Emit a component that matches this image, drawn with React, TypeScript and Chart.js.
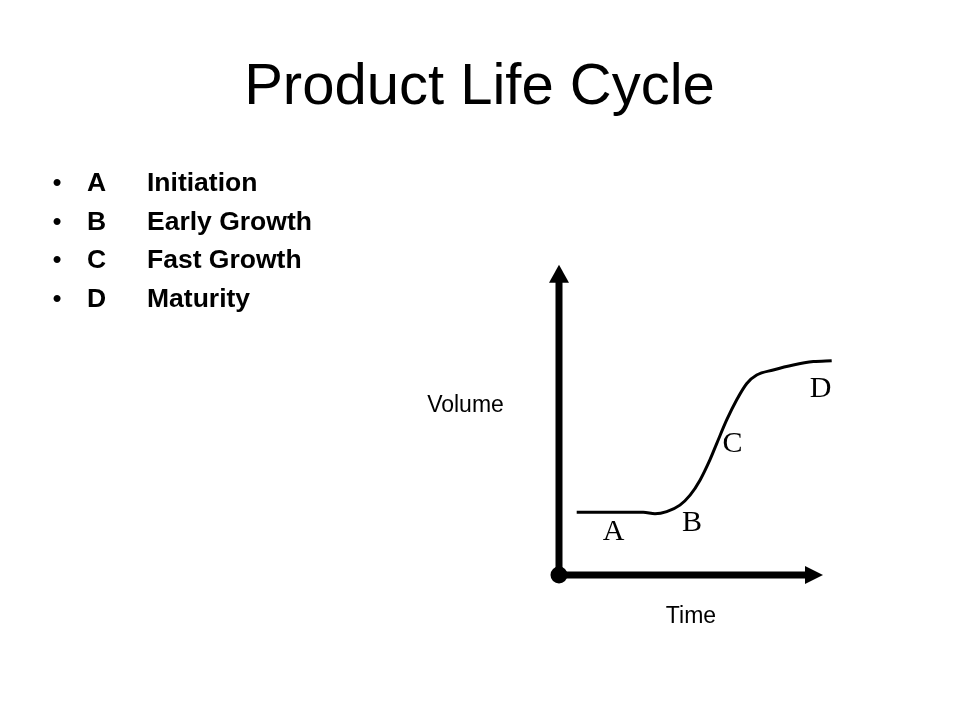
import React, { useEffect, useRef } from "react";
import { Chart, registerables } from "chart.js";

Chart.register(...registerables);

// ---- data ----
const titleText = "Product Life Cycle";
const stageLetters = ["A", "B", "C", "D"];
const stageNames = ["Initiation", "Early Growth", "Fast Growth", "Maturity"];

// S-curve (volume over time), in diagram units
const curveTime = [5.9, 28.1, 32.0, 35.9, 40.3, 43.7, 47.0, 50.3, 52.6, 55.9, 59.2, 62.6, 65.9, 71.4, 78.1, 84.8, 90.9];
const curveVolume = [20.1, 20.1, 19.6, 20.3, 22.4, 25.6, 30.4, 36.9, 42.2, 49.7, 56.1, 61.4, 64.1, 65.7, 67.3, 68.4, 68.7];

// stage label anchors (time, volume)
const labelTime = [18.2, 44.3, 57.8, 87.2];
const labelVolume = [11.2, 14.1, 39.4, 57.1];

// axis extents
const timeAxisEnd = 88;
const volumeAxisEnd = 99.4;
const xAxisTitle = "Time";
const yAxisTitle = "Volume";

const SANS = '"Liberation Sans", Arial, Helvetica, sans-serif';
const SERIF = '"Liberation Serif", "Times New Roman", Times, serif';

const slidePlugin = {
  id: "slideDecor",
  afterDatasetsDraw(chart: any) {
    const ctx = chart.ctx as CanvasRenderingContext2D;
    const xs = chart.scales.x;
    const ys = chart.scales.y;
    ctx.save();
    ctx.fillStyle = "#000";
    ctx.strokeStyle = "#000";

    // axes with arrowheads
    const ox = xs.getPixelForValue(0);
    const oy = ys.getPixelForValue(0);
    const tx = xs.getPixelForValue(timeAxisEnd);
    const ty = ys.getPixelForValue(volumeAxisEnd);
    ctx.lineWidth = 7;
    ctx.lineCap = "butt";
    ctx.beginPath();
    ctx.moveTo(ox, oy);
    ctx.lineTo(ox, ty + 14);
    ctx.moveTo(ox, oy);
    ctx.lineTo(tx - 14, oy);
    ctx.stroke();
    // vertical arrowhead
    ctx.beginPath();
    ctx.moveTo(ox, ty);
    ctx.lineTo(ox - 10, ty + 18);
    ctx.lineTo(ox + 10, ty + 18);
    ctx.closePath();
    ctx.fill();
    // horizontal arrowhead
    ctx.beginPath();
    ctx.moveTo(tx, oy);
    ctx.lineTo(tx - 18, oy - 9);
    ctx.lineTo(tx - 18, oy + 9);
    ctx.closePath();
    ctx.fill();
    // origin dot
    ctx.beginPath();
    ctx.arc(ox, oy, 8.5, 0, Math.PI * 2);
    ctx.fill();

    // stage letters
    ctx.font = `30px ${SERIF}`;
    ctx.textAlign = "center";
    ctx.textBaseline = "alphabetic";
    stageLetters.forEach((l, i) => {
      ctx.fillText(l, xs.getPixelForValue(labelTime[i]), ys.getPixelForValue(labelVolume[i]));
    });

    // axis titles
    ctx.font = `23px ${SANS}`;
    ctx.fillText(yAxisTitle, 465.5, 412);
    ctx.fillText(xAxisTitle, 691, 623);

    // title
    ctx.font = `58px ${SANS}`;
    ctx.textAlign = "center";
    ctx.fillText(titleText, 479.5, 104);

    // bullet list
    const baselines = [191, 229.5, 268, 306.5];
    stageLetters.forEach((l, i) => {
      const by = baselines[i];
      ctx.textAlign = "center";
      ctx.font = `26px ${SANS}`;
      ctx.fillText("\u2022", 57, by);
      ctx.textAlign = "left";
      ctx.font = `bold 26.5px ${SANS}`;
      ctx.fillText(l, 87, by);
      ctx.fillText(stageNames[i], 147, by);
    });
    ctx.restore();
  },
};

export default function App() {
  const canvasRef = useRef<HTMLCanvasElement | null>(null);

  useEffect(() => {
    const canvas = canvasRef.current;
    if (!canvas) return;
    const chart = new Chart(canvas, {
      type: "line",
      data: {
        datasets: [
          {
            label: "Volume",
            data: curveTime.map((t, i) => ({ x: t, y: curveVolume[i] })),
            borderColor: "#000",
            borderWidth: 3,
            pointRadius: 0,
            fill: false,
            cubicInterpolationMode: "monotone",
            clip: false as any,
          },
        ],
      },
      options: {
        responsive: false,
        animation: false,
        events: [],
        layout: { padding: { left: 559, right: 101, top: 263, bottom: 145 } },
        scales: {
          x: { type: "linear", min: 0, max: 100, display: false },
          y: { type: "linear", min: 0, max: 100, display: false },
        },
        plugins: {
          legend: { display: false },
          tooltip: { enabled: false },
          title: { display: false },
        },
      },
      plugins: [slidePlugin],
    });
    return () => chart.destroy();
  }, []);

  return (
    <div style={{ position: "absolute", left: 0, top: 0, width: 960, height: 720, background: "#fff" }}>
      <canvas ref={canvasRef} width={960} height={720} style={{ display: "block" }} />
    </div>
  );
}
